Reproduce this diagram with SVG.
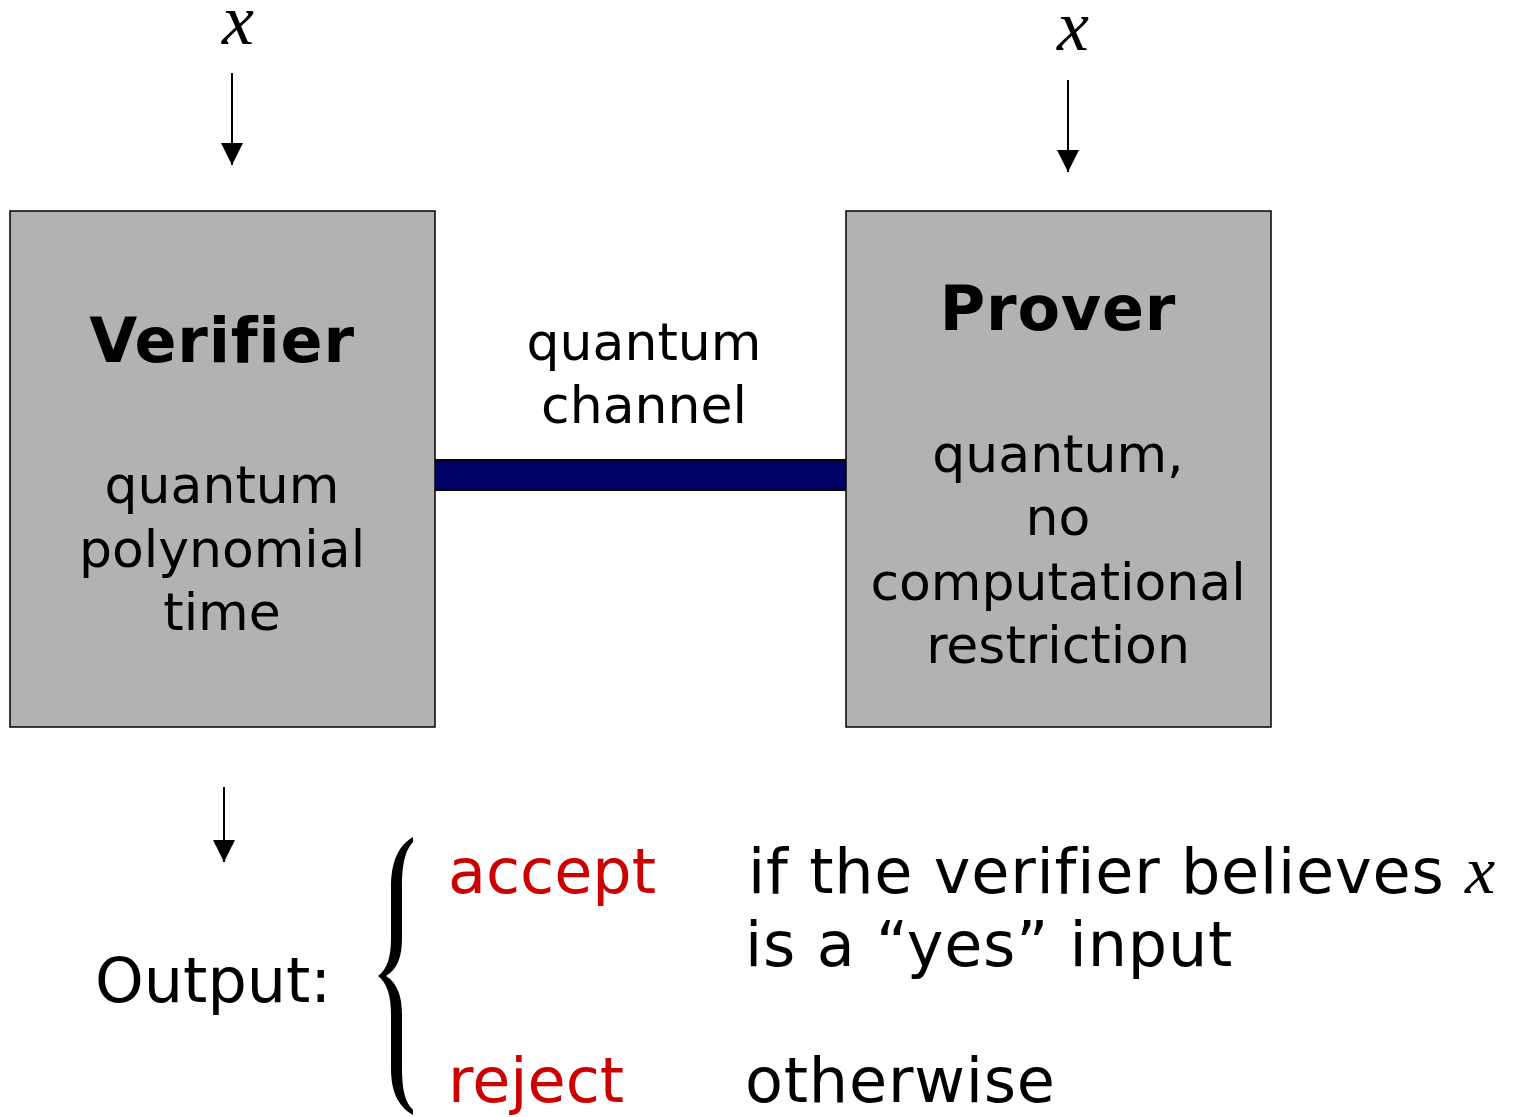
<svg xmlns="http://www.w3.org/2000/svg" width="1520" height="1117" viewBox="0 0 1520 1117">
<defs>
<style>
.box{fill:#b2b2b2;stroke:#000;stroke-width:1.5}
.t{font-family:"DejaVu Sans",Verdana,sans-serif;font-size:52px;fill:#000;text-anchor:middle}
.h{font-family:"DejaVu Sans",Verdana,sans-serif;font-size:62px;font-weight:bold;fill:#000;text-anchor:middle;letter-spacing:0.8px}
.b{font-family:"DejaVu Sans",Verdana,sans-serif;font-size:62px;fill:#000}
.red{fill:#cc0000}
.x{font-family:"Liberation Serif","Times New Roman",serif;font-style:italic;font-size:72px;fill:#000}
.arr{stroke:#000;stroke-width:2;fill:none;marker-end:url(#ah)}
</style>
<marker id="ah" markerUnits="userSpaceOnUse" markerWidth="24" markerHeight="24" viewBox="0 0 24 24" refX="22" refY="12" orient="auto">
<path d="M0,1 L22,12 L0,23 Z" fill="#000"/>
</marker>
</defs>
<rect width="1520" height="1117" fill="#fff"/>
<g id="connectors">
<line class="arr" x1="232" y1="73" x2="232" y2="165"/>
<line class="arr" x1="1068" y1="80" x2="1068" y2="172"/>
<line class="arr" x1="224" y1="787" x2="224" y2="862"/>
<rect id="channel" x="435" y="460" width="411" height="30" fill="#000066" stroke="#000" stroke-width="2"/>
</g>
<g id="input-left"><text class="x" x="238" y="44" text-anchor="middle">x</text></g>
<g id="input-right"><text class="x" x="1073" y="50" text-anchor="middle">x</text></g>
<g id="verifier">
<rect class="box" x="10" y="211" width="425" height="516"/>
<text class="h" x="222" y="362">Verifier</text>
<text class="t" x="222" y="503">quantum</text>
<text class="t" x="222" y="567">polynomial</text>
<text class="t" x="222" y="630">time</text>
</g>
<g id="prover">
<rect class="box" x="846" y="211" width="425" height="516"/>
<text class="h" x="1058" y="330">Prover</text>
<text class="t" x="1058" y="472">quantum,</text>
<text class="t" x="1058" y="535">no</text>
<text class="t" x="1058" y="600">computational</text>
<text class="t" x="1058" y="663">restriction</text>
</g>
<g id="channel-label">
<text class="t" x="644" y="360">quantum</text>
<text class="t" x="644" y="423">channel</text>
</g>
<g id="output">
<text class="b" x="95" y="1002">Output:</text>
<path d="M413,837 C398,846 391,862 391,888 L391,938 C391,958 387,969 378,976 C387,983 391,995 391,1015 L391,1068 C391,1092 398,1106 413,1115 L413,1110 C405,1102 402,1090 402,1068 L402,1015 C402,995 397,983 386,976 C397,969 402,958 402,938 L402,888 C402,864 405,851 413,842 Z" fill="#000"/>
<text class="b red" x="448" y="893">accept</text>
<text class="b red" x="448" y="1102">reject</text>
<text class="b" x="748" y="893" letter-spacing="0.8">if the verifier believes <tspan class="x" style="font-size:68px" letter-spacing="0">x</tspan></text>
<text class="b" x="745" y="966" letter-spacing="0.8">is a “yes” input</text>
<text class="b" x="745" y="1102" letter-spacing="0.8">otherwise</text>
</g>
</svg>
